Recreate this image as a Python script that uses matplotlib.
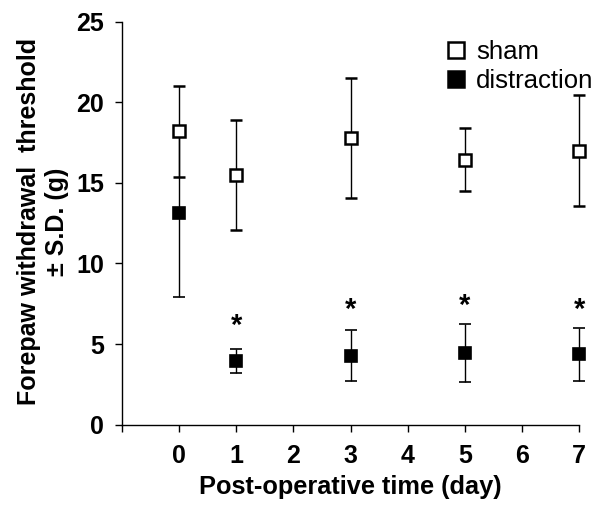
import matplotlib
matplotlib.use("Agg")
import matplotlib.pyplot as plt
from matplotlib.lines import Line2D

plt.rcParams['font.family'] = ['Liberation Sans', 'DejaVu Sans']
plt.rcParams['font.weight'] = 'bold'

days = [0, 1, 3, 5, 7]
sham_mean = [18.2, 15.5, 17.8, 16.45, 17.0]
sham_sd = [2.8, 3.4, 3.75, 1.95, 3.45]
dist_mean = [13.15, 3.95, 4.27, 4.42, 4.36]
dist_sd = [5.25, 0.72, 1.57, 1.81, 1.65]
star_days = [1, 3, 5, 7]
star_y = [6.1, 7.1, 7.35, 7.1]
xticks = [-1, 0, 1, 2, 3, 4, 5, 6, 7]
xticklabels = ['', '0', '1', '2', '3', '4', '5', '6', '7']
yticks = [0, 5, 10, 15, 20, 25]

fig = plt.figure(figsize=(5.96, 5.09), dpi=100)
ax = fig.add_axes([0.2047, 0.166, 0.767, 0.7908])

for mean, sd, fc, z in [(dist_mean, dist_sd, 'black', 2), (sham_mean, sham_sd, 'white', 3)]:
    eb = ax.errorbar(days, mean, yerr=sd, fmt='s', color='black', ecolor='black',
                     mfc=fc, mec='black', ms=8.5, mew=1.8 if fc == 'white' else 1.2,
                     elinewidth=1.0, capsize=4.5, capthick=1.0, zorder=z)
    for art in eb.lines[:2]:
        if art is None:
            continue
        if isinstance(art, tuple):
            for a in art:
                a.set_clip_on(False)
        else:
            art.set_clip_on(False)
    for coll in eb.lines[2]:
        coll.set_clip_on(False)

for d, y in zip(star_days, star_y):
    ax.text(d, y, '*', ha='center', va='center', fontsize=21, fontweight='bold')

ax.set_xlim(-1, 7)
ax.set_ylim(0, 25)
ax.set_xticks(xticks)
ax.set_xticklabels(xticklabels)
ax.set_yticks(yticks)
ax.tick_params(axis='both', labelsize=18, width=1.0, length=5, direction='out')
ax.tick_params(axis='x', pad=9)
ax.tick_params(axis='y', pad=8)
for lab in ax.get_xticklabels() + ax.get_yticklabels():
    lab.set_fontweight('bold')
ax.spines['top'].set_visible(False)
ax.spines['right'].set_visible(False)
ax.spines['left'].set_linewidth(1.0)
ax.spines['bottom'].set_linewidth(1.0)

ax.set_xlabel('Post-operative time (day)', fontsize=18.3, fontweight='bold', labelpad=5)
ax.set_ylabel('Forepaw withdrawal  threshold\n\u00b1 S.D. (g)', fontsize=18,
              fontweight='bold', linespacing=1.2)
ax.yaxis.set_label_coords(-0.116, 0.504)

handles = [
    Line2D([], [], marker='s', ls='none', mfc='white', mec='black', ms=12, mew=1.8),
    Line2D([], [], marker='s', ls='none', mfc='black', mec='black', ms=12, mew=1.8),
]
fig.legend(handles, ['sham', 'distraction'], loc='upper left',
           bbox_to_anchor=(0.743, 0.921), bbox_transform=fig.transFigure,
           frameon=False, prop={'size': 18.5, 'weight': 'normal'}, handletextpad=0.3,
           handlelength=1.0, labelspacing=0.2, borderaxespad=0, borderpad=0)

fig.savefig('out.png', dpi=100)
